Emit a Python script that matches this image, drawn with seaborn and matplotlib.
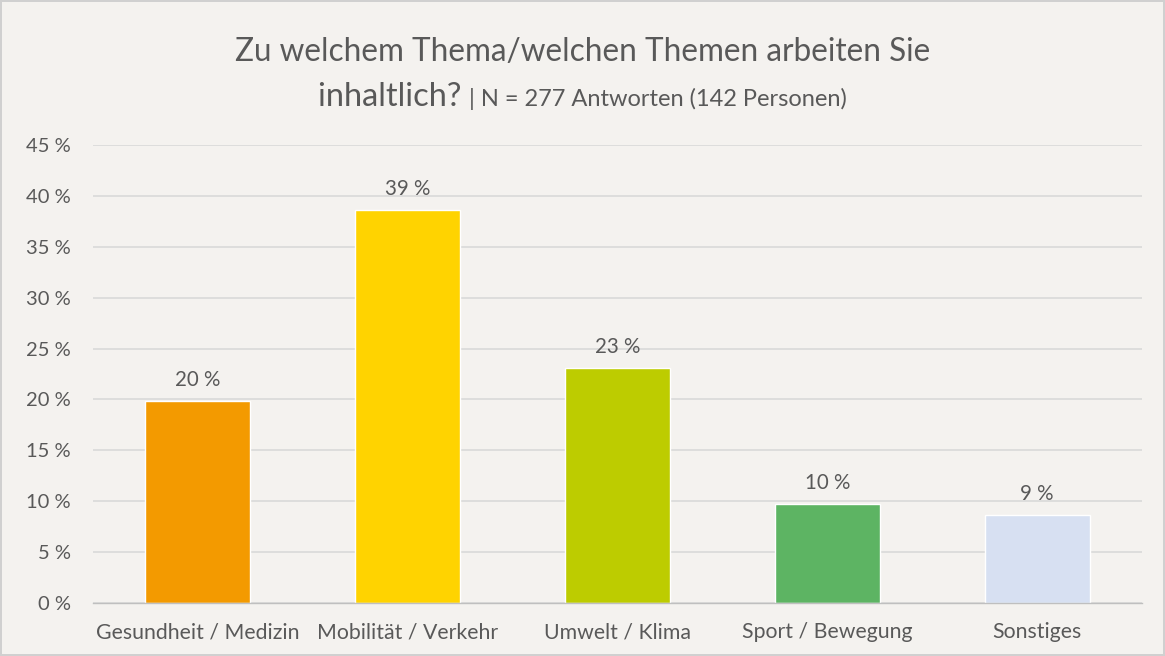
import matplotlib
matplotlib.use("Agg")
import matplotlib.pyplot as plt
import seaborn as sns
import pandas as pd
import numpy as np
from matplotlib.ticker import FixedLocator

categories = ["Gesundheit / Medizin", "Mobilität / Verkehr", "Umwelt / Klima", "Sport / Bewegung", "Sonstiges"]
values = [19.86, 38.63, 23.10, 9.75, 8.66]
labels = ["20 %", "39 %", "23 %", "10 %", "9 %"]
colors = ["#F39A00", "#FFD300", "#BDCC00", "#5DB463", "#D7E0F2"]
yticks = [0, 5, 10, 15, 20, 25, 30, 35, 40, 45]
ytick_labels = ["0 %", "5 %", "10 %", "15 %", "20 %", "25 %", "30 %", "35 %", "40 %", "45 %"]

bg = "#F4F2EF"
txt = "#595959"
grid = "#D9D9D9"

sns.set_theme(style="white")
plt.rcParams["font.family"] = ["Lato", "DejaVu Sans"]

fig = plt.figure(figsize=(11.65, 6.56), dpi=100, facecolor=bg)
fig.patch.set_edgecolor("#D0D0D0")
fig.patch.set_linewidth(1.5)
ax = fig.add_axes([93/1165, 1-603/656, (1142-93)/1165, (603-145)/656])
ax.set_facecolor(bg)

df = pd.DataFrame({"cat": categories, "val": values})
sns.barplot(data=df, x="cat", y="val", hue="cat", palette=colors, width=0.5,
            legend=False, ax=ax, saturation=1)

ax.set_ylim(0, 45)
ax.set_xlim(-0.5, len(categories) - 0.5)
ax.set_yticks(yticks)
ax.set_yticklabels(ytick_labels)
ax.yaxis.grid(True, color=grid, linewidth=1.2)
ax.set_axisbelow(True)
for s in ["top", "right", "left"]:
    ax.spines[s].set_visible(False)
ax.spines["bottom"].set_color("#BFBFBF")
ax.spines["bottom"].set_linewidth(1)
ax.set_xlabel("")
ax.set_ylabel("")
ax.tick_params(axis="y", length=0, pad=16, labelsize=14.5, labelcolor=txt)
ax.tick_params(axis="x", which="major", length=0, pad=14, labelsize=15.3, labelcolor=txt)
ax.xaxis.set_minor_locator(FixedLocator(np.arange(-0.5, len(categories), 1.0)))
ax.tick_params(axis="x", which="minor", length=6, width=1, color="#BFBFBF", direction="out")

for i, (v, lab) in enumerate(zip(values, labels)):
    ax.annotate(lab, (i, v), xytext=(0, 8), textcoords="offset points",
                ha="center", va="bottom", fontsize=14.8, color=txt)

fig.text(0.5, 1-52/656, "Zu welchem Thema/welchen Themen arbeiten Sie",
         ha="center", va="center", fontsize=22.7, color=txt)

# second title line composed of two parts, centered together
fig.canvas.draw()
r = fig.canvas.get_renderer()
t1 = fig.text(0, 1-97/656, "inhaltlich? ", ha="left", va="center", fontsize=23.5, color=txt)
t2 = fig.text(0, 1-99/656, "| N = 277 Antworten (142 Personen)", ha="left", va="center", fontsize=17, color=txt)
w1 = t1.get_window_extent(r).width
w2 = t2.get_window_extent(r).width
W = fig.get_figwidth() * fig.dpi
x0 = (W - (w1 + w2)) / 2
t1.set_x(x0 / W)
t2.set_x((x0 + w1) / W)

fig.savefig("out.png", dpi=100, facecolor=bg, edgecolor=fig.patch.get_edgecolor())
